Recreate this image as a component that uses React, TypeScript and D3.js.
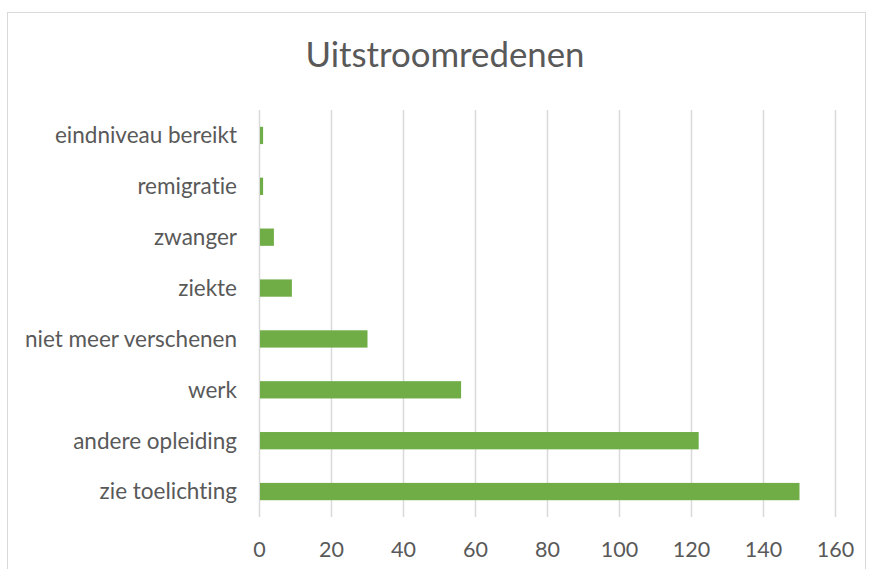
import React from "react";
import * as d3 from "d3";

const categories = [
  "eindniveau bereikt",
  "remigratie",
  "zwanger",
  "ziekte",
  "niet meer verschenen",
  "werk",
  "andere opleiding",
  "zie toelichting",
];
const values = [1, 1, 4, 9, 30, 56, 122, 150];
const xTicks = [0, 20, 40, 60, 80, 100, 120, 140, 160];
const title = "Uitstroomredenen";

const W = 869;
const H = 569;
const FONT = "Lato, 'Open Sans', sans-serif";

export default function App() {
  const x = d3.scaleLinear().domain([0, 160]).range([259.5, 835.5]);
  const y = d3.scaleBand<string>().domain(categories).range([110, 517]).paddingInner(0.66).paddingOuter(0.33);
  return (
    <svg
      width={W}
      height={H}
      style={{ position: "absolute", left: 0, top: 0, fontVariantLigatures: "none", fontFeatureSettings: "'liga' 0, 'clig' 0" }}
      fontFamily={FONT}
    >
      <rect x={0} y={0} width={W} height={H} fill="#fff" />
      <rect x={7.5} y={12.5} width={858} height={700} fill="#fff" stroke="#d9d9d9" strokeWidth={1} />
      <text x={445} y={67} textAnchor="middle" fontSize={34.8} fill="#595959">{title}</text>
      {xTicks.map((t) => (
        <line key={t} x1={x(t)} x2={x(t)} y1={110} y2={517} stroke="#d9d9d9" strokeWidth={1.5} />
      ))}
      {categories.map((c, i) => (
        <rect key={c} x={x(0) + 0.5} y={y(c)!} width={x(values[i]) - x(0) - 0.5} height={y.bandwidth()} fill="#70ad47" />
      ))}
      {categories.map((c) => (
        <text key={c} x={237} y={y(c)! + y.bandwidth() / 2} dy="0.35em" textAnchor="end" fontSize={22.5} fill="#595959">{c}</text>
      ))}
      {xTicks.map((t) => (
        <text key={t} x={x(t)} y={556.5} textAnchor="middle" fontSize={21.5} fill="#595959">{t}</text>
      ))}
    </svg>
  );
}
